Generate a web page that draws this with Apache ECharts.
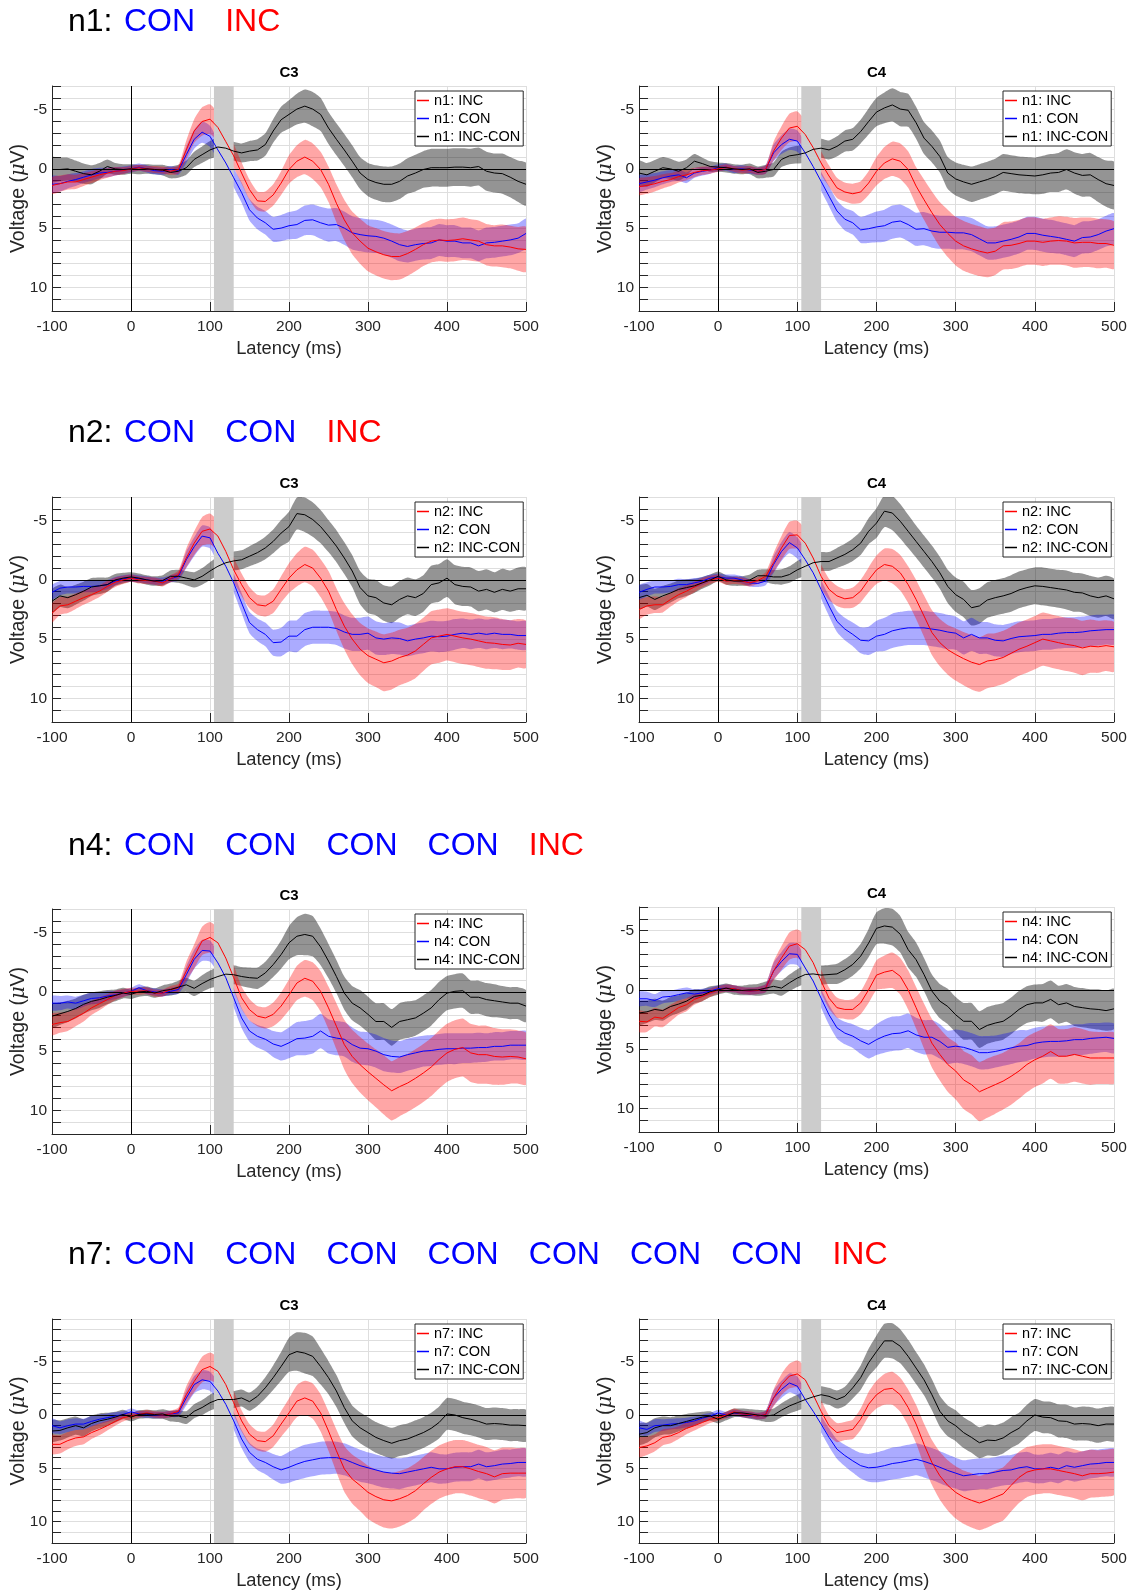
<!DOCTYPE html>
<html>
<head>
<meta charset="utf-8">
<title>ERP C3 / C4</title>
<script src="https://cdn.jsdelivr.net/npm/echarts@6/dist/echarts.min.js"></script>
<style>
  html, body { margin: 0; padding: 0; background: #fff; }
  #main { width: 1132px; height: 1591px; }
</style>
</head>
<body>
<div id="main"></div>
<script>
// sample times (ms)
var latencyMs = [-100,-90,-80,-70,-60,-50,-40,-30,-20,-10,0,10,20,30,40,50,60,70,80,90,100,110,120,130,140,150,160,170,180,190,200,210,220,230,240,250,260,270,280,290,300,310,320,330,340,350,360,370,380,390,400,410,420,430,440,450,460,470,480,490,500];
var shadeFrom = 105, shadeTo = 130;

// row headers
var headerPrefix = ['n1:', 'n2:', 'n4:', 'n7:'];
var headerWords = [
  ['CON', 'INC'],
  ['CON', 'CON', 'INC'],
  ['CON', 'CON', 'CON', 'CON', 'INC'],
  ['CON', 'CON', 'CON', 'CON', 'CON', 'CON', 'CON', 'INC']
];

// ---- n1 ----
var n1C3Inc  = [1.4,1.25,1.1,1.1,0.9,0.7,0.5,0.35,0.2,0.15,0,-0.1,0,0.05,0.1,0.2,0.05, -1.6,-3.2,-4.0,-4.2,-3.5,-2.3,-1.1, 0.35,1.75,2.7,2.75,2.2,1.2, 0.05,-0.65,-1.0,-0.65,0.05,1.3, 2.9,4.3,5.4,6.1,6.7,7.0, 7.25,7.4,7.4,7.15,6.8,6.4, 6.1,6.0,6.05,6.0,5.9,6.0,6.1, 6.4,6.5,6.5,6.6,6.75,6.8];
var n1C3Con  = [1.3,1.25,1.05,0.9,0.7,0.5,0.35,0.3,0.2,0.1,0,-0.15,0,0.15,0.2,0.05,0.15, -1.2,-2.5,-3.1,-2.75,-1.6,-0.5,0.75, 2.0,3.45,4.15,4.55,5.1,5.0, 4.8,4.7,4.35,4.3,4.55,4.75, 4.7,5.0,5.4,5.55,5.65,5.7, 5.85,6.1,6.4,6.55,6.4,6.3, 6.25,6.0,6.1,6.1,6.25,6.25,6.5, 6.25,6.2,6.1,6.0,5.85,5.45];
var n1C3Diff = [0.05,0.05,0,0.2,0.4,0.5,0.2,-0.2,0,0.05,0,0.05,0,0.05,0.1,0.3,0.2, -0.1,-0.8,-1.2,-1.6,-1.85,-1.75,-1.5, -1.35,-1.5,-1.6,-2.05,-3.2,-4.15, -4.6,-5.05,-5.3,-5.05,-4.6,-3.45, -2.5,-1.6,-0.65,0.35,0.9,1.15, 1.3,1.3,1.05,0.6,0.35,0.05, -0.1,-0.1,-0.1,-0.15,-0.15,-0.1,-0.2, 0.2,0.35,0.4,0.7,1.05,1.3];
var n1C4Inc  = [1.5,1.4,1.25,1.05,0.9,0.65,0.5,0.3,0.15,0.1,0,-0.15,0,0.1,0.05,0.2,0.05, -1.5,-2.6,-3.45,-3.6,-2.9,-1.8,-0.5, 0.6,1.6,1.95,2.1,1.95,1.2, 0.2,-0.5,-0.85,-0.65,0.05,1.45, 2.6,3.7,4.7,5.45,6.1,6.5, 6.75,6.95,7.1,6.95,6.5,6.45, 6.3,6.1,6.1,6.2,6.1,6.05,6.1, 6.25,6.2,6.2,6.3,6.3,6.45];
var n1C4Con  = [1.25,1.1,0.95,0.75,0.6,0.5,0.75,0.35,0.2,0.1,-0.1,-0.15,0.05,0,0.1,0.2,0.05, -1.35,-2.05,-2.5,-2.35,-1.35,-0.2,1.05, 2.3,3.55,4.25,4.55,5.15,5.05, 4.9,4.8,4.5,4.4,4.7,5.1, 5.05,5.25,5.35,5.35,5.4,5.4, 5.55,5.9,6.25,6.25,6.1,5.95, 5.75,5.45,5.45,5.6,5.7,5.8,5.95, 6.1,5.8,5.75,5.55,5.25,5.05];
var n1C4Diff = [0.35,0.5,0.2,-0.1,0,0.2,-0.1,-0.65,-0.45,-0.2,-0.15,-0.1,0,0.05,0,0.3,0.2, 0.05,-0.8,-1.1,-1.2,-1.35,-1.65,-1.75, -1.6,-1.9,-2.35,-2.5,-3.15,-4.0, -4.8,-5.15,-5.4,-5.05,-4.95,-3.9, -2.6,-1.9,-1.05,0.35,0.85,1.1, 1.3,1.1,0.9,0.65,0.3,0.4, 0.5,0.55,0.6,0.5,0.35,0.3,0.05, 0.35,0.55,0.5,0.9,1.25,1.4];

// ---- n2 ----
var n2C3Inc  = [2.8,2.2,2.1,1.8,1.5,1.25,0.95,0.55,0.2,0,-0.15,0,0.05,0.1,0.25,-0.1,-0.45, -1.85,-3.1,-4.1,-4.3,-3.7,-2.4,-0.85, 0.4,1.5,2.1,2.2,1.8,0.8, -0.15,-0.85,-1.3,-1.0,-0.15,0.95, 2.5,3.9,5.0,5.85,6.4,6.7, 7.0,6.85,6.55,6.35,6.0,5.45, 4.9,4.75,4.6,4.75,4.9,5.0,5.15, 5.3,5.35,5.45,5.5,5.35,5.45];
var n2C3Con  = [1.05,0.7,0.6,0.6,0.55,0.55,0.5,0.4,0.1,-0.1,-0.15,-0.1,0,0.1,0.1,-0.1,-0.3, -1.7,-2.8,-3.7,-3.55,-2.25,-1.15,0.25, 1.95,3.6,4.2,4.6,5.3,5.25, 4.75,4.75,4.2,4.0,4.0,4.0, 4.1,4.4,4.6,4.6,4.5,4.9, 5.0,4.9,4.95,5.15,5.0,4.9, 4.75,4.8,4.75,4.6,4.5,4.6,4.5, 4.6,4.5,4.6,4.6,4.7,4.7];
var n2C3Diff = [1.8,1.35,1.5,1.25,0.95,0.6,0.5,0.4,0,-0.15,-0.25,-0.15,0,0.1,0.05,-0.3,-0.3, -0.15,0,-0.3,-0.75,-1.15,-1.45,-1.6, -1.7,-2.0,-2.3,-2.7,-3.25,-3.95, -4.5,-5.6,-5.5,-5.1,-4.5,-3.7, -2.85,-1.85,-0.75,0.65,1.35,1.5, 1.95,2.1,1.65,1.35,1.5,1.15, 0.4,0.25,-0.15,0.4,0.55,0.6,0.95, 0.8,1.05,0.8,0.95,0.75,0.75];
var n2C4Inc  = [2.5,2.2,2.1,2.1,1.65,1.25,0.95,0.6,0.25,0,-0.15,0.1,0.05,0.1,0.25,0.05,-0.3, -1.45,-2.7,-3.75,-3.8,-3.1,-1.85,-0.3, 0.8,1.35,1.6,1.5,0.95,0, -0.85,-1.3,-1.15,-0.6,0.4,1.65, 3.05,4.45,5.3,5.9,6.3,6.65, 6.95,7.15,6.85,6.75,6.55,6.2, 5.85,5.6,5.3,5.0,5.15,5.3,5.45, 5.55,5.75,5.6,5.65,5.55,5.65];
var n2C4Con  = [1.05,0.8,0.6,0.6,0.55,0.4,0.4,0.25,0.1,-0.15,-0.25,-0.15,-0.15,0,0.25,0.3,0.1, -1.3,-2.4,-3.15,-2.7,-1.7,-0.6,0.8, 2.2,3.5,4.15,4.6,5.1,5.15, 4.75,4.6,4.3,4.15,4.05,4.05, 4.05,4.15,4.25,4.4,4.5,4.9, 4.6,4.9,4.9,5.1,5.15,4.95, 4.8,4.75,4.7,4.6,4.6,4.5,4.45, 4.45,4.4,4.3,4.25,4.2,4.2];
var n2C4Diff = [1.5,1.3,1.65,1.35,1.1,0.8,0.65,0.5,0.25,0,-0.3,0,0.1,0.1,0,-0.35,-0.35, -0.25,-0.25,-0.45,-0.85,-1.15,-1.45,-1.55, -1.55,-1.85,-2.15,-2.55,-3.1,-4.1, -4.8,-5.8,-5.65,-4.95,-4.1,-3.25, -2.4,-1.55,-0.6,0.55,1.25,1.65, 2.35,2.2,1.7,1.5,1.35,1.15, 0.85,0.65,0.5,0.55,0.65,0.75,0.85, 1.05,1.1,1.35,1.5,1.35,1.6];

// ---- n4 ----
var n4C3Inc  = [2.75,2.6,2.5,2.15,1.8,1.35,1.0,0.65,0.3,0.1,-0.05,-0.05,-0.1,0.1,0.1,-0.2,-0.35, -1.75,-3.0,-4.3,-4.6,-4.15,-2.85,-1.2, 0.5,1.5,2.05,2.2,1.9,1.2, 0.25,-0.75,-1.15,-0.9,-0.05,1.35, 2.9,4.45,5.45,6.15,6.75,7.3, 7.85,8.35,8.0,7.7,7.3,6.85, 6.35,5.7,5.15,4.85,4.7,5.15,5.3, 5.3,5.45,5.5,5.45,5.5,5.65];
var n4C3Con  = [0.95,0.95,0.85,0.95,0.75,0.55,0.5,0.35,0.25,0.1,-0.05,-0.35,-0.1,0,0.1,-0.05,-0.2, -1.45,-2.75,-3.5,-3.45,-2.45,-1.2,0.5, 2.2,3.3,3.75,4.0,4.4,4.6, 4.3,3.95,3.9,3.75,3.3,3.75, 3.9,4.0,4.45,4.75,4.8,5.0, 5.3,5.45,5.5,5.3,5.15,5.0, 4.95,4.85,4.8,4.8,4.75,4.75,4.7, 4.7,4.6,4.6,4.5,4.5,4.5];
var n4C3Diff = [2.05,1.85,1.65,1.4,1.05,0.8,0.65,0.45,0.3,0.1,0.2,0,-0.05,0.1,-0.1,-0.2,-0.4, -0.6,-0.3,-0.7,-1.05,-1.3,-1.5,-1.45, -1.3,-1.2,-1.15,-1.6,-2.3,-3.15, -4.15,-4.7,-4.85,-4.7,-3.8,-2.6, -1.3,0.1,0.95,1.35,1.9,2.5, 2.5,3.0,2.5,2.35,2.2,1.8, 1.35,0.65,0.1,-0.05,-0.1,0.45,0.45, 0.65,0.75,0.85,0.95,0.95,1.2];
var n4C4Inc  = [2.65,2.7,2.3,2.4,1.95,1.5,1.25,0.8,0.55,0.25,0,-0.15,-0.1,0.05,0.1,0.05,-0.15, -1.6,-2.7,-3.7,-3.9,-3.4,-2.3,-0.75, 0.7,1.5,1.65,1.65,1.1,0, -1.25,-1.5,-1.65,-1.15,0,1.5, 3.05,4.5,5.45,6.3,6.85,7.6, 8.0,8.6,8.3,8.0,7.7,7.3, 6.85,6.3,5.9,5.6,5.2,5.6,5.6, 5.45,5.6,5.75,5.75,5.75,5.75];
var n4C4Con  = [0.75,0.75,0.9,0.6,0.55,0.4,0.25,0.35,0.25,0.1,-0.1,-0.15,-0.1,0.05,0.1,0.05,-0.15, -1.6,-2.4,-3.05,-3.0,-1.85,-0.75,0.7, 2.1,3.2,3.65,3.9,4.3,4.6, 4.2,3.9,3.7,3.65,3.45,3.8, 4.0,4.0,4.35,4.85,4.75,4.85, 5.05,5.3,5.3,5.2,5.05,4.9, 4.75,4.7,4.5,4.4,4.35,4.35,4.3, 4.2,4.2,4.1,4.05,4.0,4.1];
var n4C4Diff = [1.95,1.85,1.65,1.75,1.4,1.2,0.95,0.55,0.45,0.15,0,-0.15,0,0.05,0,0,-0.15, -0.3,-0.15,-0.6,-1.0,-1.3,-1.35,-1.25, -1.3,-1.35,-1.7,-2.15,-2.85,-3.95, -5.2,-5.4,-5.3,-4.7,-3.4,-2.55, -1.3,0.1,0.95,1.4,2.1,2.65, 2.65,3.35,3.0,2.8,2.65,2.2, 1.65,1.25,1.1,1.1,0.8,1.25,1.1, 1.4,1.5,1.6,1.65,1.75,1.6];

// ---- n7 ----
var n7C3Inc  = [2.75,2.75,2.4,2.15,2.05,1.65,1.35,1.0,0.6,0.25,0.1,-0.05,-0.2,-0.05,0,-0.1,-0.35, -1.9,-3.15,-4.25,-4.55,-4.1,-2.85,-1.15, 0.55,1.8,2.4,2.5,1.95,0.85, -0.2,-1.3,-1.6,-1.3,-0.2,1.5, 3.35,5.05,6.0,6.6,7.25,7.65, 7.95,8.05,7.85,7.55,7.1,6.45, 5.85,5.35,5.05,4.85,4.85,5.05,5.3, 5.5,5.8,5.5,5.45,5.45,5.45];
var n7C3Con  = [1.0,1.2,1.0,0.85,0.85,0.6,0.4,0.25,0.1,-0.05,-0.3,-0.1,-0.05,0,0,-0.1,-0.2, -1.6,-2.85,-3.3,-3.15,-2.25,-1.0,0.55, 2.25,3.5,4.15,4.45,4.85,5.15, 4.9,4.6,4.35,4.2,4.05,4.0, 4.0,4.15,4.45,4.75,4.95,5.15, 5.35,5.45,5.5,5.35,5.2,5.05, 4.9,5.05,5.05,4.9,4.85,4.85,4.6, 4.85,4.75,4.6,4.55,4.45,4.45];
var n7C3Diff = [1.5,1.45,1.2,1.0,1.2,0.8,0.55,0.4,0.2,-0.05,0.2,-0.05,-0.1,-0.05,-0.1,0.1,0.1, 0.25,-0.35,-0.7,-1.15,-1.45,-1.45,-1.45, -1.6,-1.25,-1.75,-2.55,-3.5,-4.55, -5.65,-5.95,-5.8,-5.5,-4.55,-3.5, -2.25,-0.7,0.55,1.2,1.65,2.1, 2.4,2.65,2.4,2.25,1.95,1.65, 1.25,0.7,-0.1,0,0.25,0.4,0.6, 0.85,0.8,0.85,0.95,0.95,1.0];
var n7C4Inc  = [3.05,2.9,2.6,2.1,1.95,1.65,1.25,1.0,0.7,0.4,0.25,0,-0.3,-0.1,-0.05,0.1,-0.05, -1.6,-2.85,-3.65,-3.85,-3.3,-1.9,-0.35, 1.0,1.65,1.5,1.35,0.4,-1.0, -1.9,-2.4,-2.5,-1.9,-0.7,0.85, 2.75,4.45,5.7,6.6,7.25,7.7, 8.0,8.25,8.0,7.7,7.4,6.6, 5.85,5.35,5.15,5.05,5.05,5.2,5.35, 5.5,5.7,5.5,5.5,5.45,5.35];
var n7C4Con  = [1.2,1.35,1.0,0.95,0.85,0.8,0.7,0.55,0.3,0.1,-0.2,0,-0.2,-0.1,0,0.1,-0.05, -1.6,-2.4,-3.0,-2.7,-1.45,-0.35,0.85, 2.1,3.2,3.8,4.3,4.75,4.95, 4.9,4.75,4.55,4.45,4.3,4.15, 4.35,4.6,4.9,5.2,5.45,5.7, 5.6,5.5,5.5,5.35,5.2,5.15, 4.95,4.85,5.05,5.05,4.9,5.05,4.75, 4.9,4.75,4.6,4.55,4.45,4.45];
var n7C4Diff = [1.8,1.65,1.2,1.0,1.0,0.8,0.6,0.4,0.2,0.1,0.4,0.1,-0.2,-0.2,-0.1,0,0.1, 0,-0.45,-0.85,-1.15,-1.45,-1.7,-1.9, -1.75,-1.45,-1.75,-2.55,-3.5,-4.9, -5.95,-6.95,-6.95,-6.45,-5.5,-4.4, -3.3,-1.9,-0.35,0.55,1.0,1.65, 2.1,2.6,2.35,2.4,2.15,1.65, 1.25,0.55,0,0.2,0.25,0.55,0.6, 0.85,0.8,0.85,1.0,0.85,0.85];

// ---- band half-widths (uV) ----
var n1C3IncSd  = [0.7,0.7,0.65,0.6,0.55, 0.5,0.45,0.4,0.35,0.3, 0.25,0.25,0.25,0.3,0.3,0.3,0.35, 0.8,1.0,1.2,1.25,1.2,1.1,1.0, 0.9,0.85,0.8,0.85,0.9,1.0, 1.2,1.35,1.45,1.5,1.5,1.5, 1.6,1.7,1.8,1.9,1.95,2.0, 2.0,2.0,1.95,1.9,1.85,1.8, 1.8,1.8,1.8,1.8,1.8,1.75,1.75, 1.75,1.75,1.8,1.8,1.85,1.9];
var n1C3ConSd  = [0.7,0.65,0.6,0.55,0.5, 0.5,0.45,0.4,0.35,0.3, 0.3,0.3,0.3,0.3,0.3,0.3,0.35, 0.7,0.8,0.9,0.9,0.85,0.8,0.8, 0.85,0.9,0.95,1.0,1.05,1.1, 1.15,1.2,1.25,1.3,1.35,1.4, 1.4,1.4,1.4,1.4,1.4,1.4, 1.4,1.4,1.4,1.35,1.35,1.35, 1.35,1.35,1.35,1.35,1.3,1.3,1.3, 1.3,1.3,1.3,1.3,1.25,1.25];
var n1C3DiffSd = [1.05,1.0,0.95,0.9,0.85, 0.8,0.7,0.6,0.5,0.45, 0.4,0.4,0.4,0.4,0.45,0.5,0.55, 0.6,0.65,0.7,0.75,0.8,0.8,0.8, 0.8,0.85,0.9,0.95,1.0,1.1, 1.2,1.3,1.4,1.45,1.4,1.35, 1.35,1.35,1.35,1.35,1.4,1.45, 1.5,1.5,1.5,1.5,1.55,1.55, 1.6,1.6,1.6,1.6,1.6,1.6,1.6, 1.65,1.65,1.7,1.7,1.75,1.8];
var n1C4IncSd  = [0.7,0.7,0.65,0.6,0.55, 0.5,0.45,0.4,0.35,0.3, 0.25,0.25,0.25,0.3,0.3,0.3,0.35, 0.8,1.0,1.2,1.25,1.2,1.1,1.0, 0.9,0.85,0.8,0.85,0.9,1.0, 1.2,1.35,1.45,1.5,1.55,1.6, 1.7,1.8,1.9,2.0,2.05,2.1, 2.1,2.1,2.05,2.0,2.0,2.0, 2.0,2.0,2.0,2.0,2.0,2.05,2.05, 2.1,2.1,2.1,2.1,2.05,2.0];
var n1C4ConSd  = [0.7,0.65,0.6,0.55,0.5, 0.5,0.45,0.4,0.35,0.3, 0.3,0.3,0.3,0.3,0.3,0.3,0.35, 0.7,0.8,0.9,0.9,0.85,0.8,0.8, 0.85,0.9,0.95,1.0,1.1,1.2, 1.3,1.35,1.4,1.4,1.4,1.4, 1.4,1.4,1.4,1.4,1.4,1.4, 1.4,1.4,1.4,1.4,1.4,1.4, 1.4,1.4,1.4,1.4,1.4,1.35,1.35, 1.35,1.35,1.35,1.3,1.3,1.3];
var n1C4DiffSd = [1.05,1.0,0.95,0.9,0.85, 0.8,0.7,0.6,0.5,0.45, 0.4,0.4,0.4,0.4,0.45,0.5,0.55, 0.6,0.65,0.7,0.75,0.8,0.8,0.8, 0.8,0.85,0.9,0.95,1.0,1.1, 1.2,1.3,1.4,1.45,1.4,1.35, 1.35,1.35,1.35,1.35,1.4,1.45, 1.5,1.5,1.5,1.5,1.55,1.55, 1.55,1.55,1.55,1.6,1.6,1.65,1.7, 1.75,1.8,1.85,1.9,1.95,2.0];
var n2C3IncSd  = [0.8,0.75,0.7,0.65,0.6, 0.55,0.5,0.45,0.4,0.35, 0.3,0.3,0.3,0.3,0.3,0.3,0.35, 0.8,1.0,1.2,1.3,1.25,1.15,1.05, 0.95,0.9,0.85,0.9,1.0,1.1, 1.25,1.4,1.5,1.55,1.6,1.7, 1.8,1.95,2.1,2.2,2.3,2.35, 2.4,2.4,2.35,2.3,2.3,2.25, 2.25,2.25,2.2,2.2,2.2,2.2,2.2, 2.2,2.2,2.15,2.1,2.05,2.0];
var n2C3ConSd  = [0.6,0.6,0.55,0.55,0.5, 0.5,0.45,0.4,0.35,0.3, 0.3,0.3,0.3,0.3,0.3,0.3,0.35, 0.7,0.8,0.9,0.9,0.85,0.8,0.8, 0.85,0.9,0.95,1.0,1.1,1.2, 1.3,1.35,1.4,1.4,1.4,1.4, 1.4,1.4,1.4,1.4,1.4,1.4, 1.35,1.35,1.35,1.3,1.3,1.3, 1.3,1.3,1.3,1.3,1.25,1.25,1.25, 1.25,1.25,1.25,1.2,1.2,1.2];
var n2C3DiffSd = [1.0,0.95,0.9,0.85,0.8, 0.75,0.7,0.6,0.5,0.45, 0.4,0.4,0.4,0.4,0.45,0.5,0.55, 0.6,0.65,0.7,0.75,0.8,0.8,0.8, 0.8,0.85,0.9,0.95,1.0,1.1, 1.25,1.35,1.45,1.45,1.4,1.35, 1.35,1.35,1.35,1.4,1.45,1.5, 1.5,1.55,1.55,1.55,1.55,1.55, 1.6,1.6,1.6,1.65,1.65,1.65,1.7, 1.7,1.7,1.75,1.75,1.8,1.8];
var n2C4IncSd  = [0.8,0.75,0.7,0.65,0.6, 0.55,0.5,0.45,0.4,0.35, 0.3,0.3,0.3,0.3,0.3,0.3,0.35, 0.8,1.0,1.15,1.2,1.2,1.1,1.0, 0.9,0.85,0.8,0.85,0.95,1.05, 1.2,1.35,1.45,1.5,1.55,1.65, 1.75,1.9,2.0,2.1,2.2,2.25, 2.3,2.3,2.3,2.25,2.25,2.25, 2.25,2.25,2.25,2.25,2.25,2.25,2.25, 2.3,2.3,2.25,2.2,2.15,2.1];
var n2C4ConSd  = [0.6,0.6,0.55,0.55,0.5, 0.5,0.45,0.4,0.35,0.3, 0.3,0.3,0.3,0.3,0.3,0.3,0.35, 0.7,0.8,0.9,0.9,0.85,0.8,0.8, 0.85,0.9,0.95,1.0,1.1,1.2, 1.3,1.4,1.45,1.45,1.45,1.45, 1.45,1.45,1.45,1.45,1.4,1.4, 1.4,1.35,1.35,1.35,1.35,1.3, 1.3,1.3,1.3,1.3,1.3,1.3,1.3, 1.3,1.3,1.3,1.3,1.25,1.25];
var n2C4DiffSd = [1.0,0.95,0.9,0.85,0.8, 0.75,0.7,0.6,0.5,0.45, 0.4,0.4,0.4,0.4,0.45,0.5,0.55, 0.6,0.65,0.7,0.75,0.8,0.8,0.8, 0.8,0.85,0.9,0.95,1.0,1.1, 1.25,1.35,1.45,1.45,1.4,1.35, 1.35,1.35,1.35,1.4,1.45,1.5, 1.5,1.5,1.5,1.5,1.5,1.55, 1.55,1.55,1.55,1.6,1.6,1.6,1.65, 1.65,1.65,1.7,1.7,1.7,1.7];
var n4C3IncSd  = [0.9,0.85,0.8,0.75,0.7, 0.6,0.55,0.45,0.4,0.35, 0.3,0.3,0.3,0.3,0.3,0.3,0.35, 0.8,1.0,1.2,1.3,1.25,1.15,1.05, 0.95,0.9,0.85,0.9,1.0,1.15, 1.3,1.45,1.55,1.6,1.7,1.8, 1.95,2.1,2.25,2.35,2.4,2.45, 2.5,2.5,2.5,2.45,2.45,2.45, 2.45,2.45,2.45,2.45,2.45,2.45,2.45, 2.45,2.4,2.35,2.3,2.25,2.2];
var n4C3ConSd  = [0.6,0.6,0.55,0.55,0.5, 0.5,0.45,0.4,0.35,0.3, 0.3,0.3,0.3,0.3,0.3,0.3,0.35, 0.7,0.8,0.9,0.9,0.85,0.8,0.8, 0.85,0.9,0.95,1.0,1.1,1.2, 1.3,1.4,1.45,1.45,1.45,1.45, 1.45,1.45,1.45,1.4,1.4,1.4, 1.4,1.35,1.35,1.35,1.35,1.3, 1.3,1.3,1.3,1.3,1.25,1.25,1.25, 1.2,1.2,1.2,1.2,1.2,1.2];
var n4C3DiffSd = [1.0,0.95,0.9,0.85,0.8, 0.75,0.7,0.6,0.5,0.45, 0.4,0.4,0.4,0.4,0.45,0.5,0.55, 0.6,0.65,0.7,0.75,0.8,0.8,0.8, 0.8,0.85,0.9,0.95,1.05,1.2, 1.4,1.6,1.75,1.7,1.55,1.45, 1.4,1.4,1.45,1.5,1.5,1.55, 1.55,1.55,1.55,1.55,1.5,1.5, 1.5,1.5,1.45,1.45,1.45,1.4,1.4, 1.4,1.4,1.35,1.35,1.35,1.35];
var n4C4IncSd  = [0.9,0.85,0.8,0.75,0.7, 0.6,0.55,0.45,0.4,0.35, 0.3,0.3,0.3,0.3,0.3,0.3,0.35, 0.8,1.0,1.15,1.2,1.2,1.1,1.0, 0.9,0.85,0.8,0.85,0.95,1.1, 1.25,1.4,1.5,1.55,1.65,1.75, 1.9,2.05,2.2,2.3,2.4,2.45, 2.5,2.5,2.5,2.45,2.4,2.4, 2.35,2.35,2.3,2.3,2.3,2.3,2.3, 2.3,2.3,2.25,2.2,2.2,2.15];
var n4C4ConSd  = [0.6,0.6,0.55,0.55,0.5, 0.5,0.45,0.4,0.35,0.3, 0.3,0.3,0.3,0.3,0.3,0.3,0.35, 0.7,0.8,0.9,0.9,0.85,0.8,0.8, 0.85,0.9,0.95,1.0,1.1,1.2, 1.3,1.4,1.45,1.45,1.45,1.45, 1.45,1.45,1.45,1.4,1.4,1.4, 1.4,1.4,1.4,1.35,1.35,1.35, 1.35,1.3,1.3,1.3,1.3,1.3,1.3, 1.3,1.3,1.3,1.25,1.25,1.25];
var n4C4DiffSd = [1.0,0.95,0.9,0.85,0.8, 0.75,0.7,0.6,0.5,0.45, 0.4,0.4,0.4,0.4,0.45,0.5,0.55, 0.6,0.65,0.7,0.75,0.8,0.8,0.8, 0.8,0.85,0.9,0.95,1.05,1.2, 1.35,1.5,1.55,1.55,1.5,1.45, 1.4,1.4,1.45,1.5,1.5,1.55, 1.55,1.55,1.55,1.55,1.55,1.55, 1.55,1.55,1.55,1.6,1.6,1.6,1.6, 1.65,1.65,1.65,1.7,1.7,1.7];
var n7C3IncSd  = [0.9,0.85,0.8,0.75,0.7, 0.6,0.55,0.45,0.4,0.35, 0.3,0.3,0.3,0.3,0.3,0.3,0.35, 0.8,1.0,1.2,1.3,1.3,1.2,1.1, 1.0,0.95,0.9,0.95,1.05,1.2, 1.35,1.5,1.6,1.65,1.75,1.85, 2.0,2.15,2.3,2.4,2.5,2.55, 2.6,2.6,2.6,2.55,2.55,2.5, 2.5,2.5,2.5,2.5,2.5,2.5,2.5, 2.5,2.5,2.45,2.4,2.35,2.3];
var n7C3ConSd  = [0.65,0.6,0.6,0.55,0.5, 0.5,0.45,0.4,0.35,0.3, 0.3,0.3,0.3,0.3,0.3,0.3,0.35, 0.7,0.8,0.9,0.9,0.85,0.8,0.8, 0.85,0.9,1.0,1.1,1.2,1.3, 1.45,1.5,1.55,1.55,1.55,1.55, 1.5,1.5,1.5,1.5,1.45,1.45, 1.45,1.45,1.45,1.4,1.4,1.4, 1.4,1.4,1.35,1.35,1.35,1.35,1.35, 1.35,1.35,1.35,1.3,1.3,1.3];
var n7C3DiffSd = [1.0,0.95,0.9,0.85,0.8, 0.75,0.7,0.6,0.5,0.45, 0.4,0.4,0.4,0.4,0.45,0.5,0.55, 0.6,0.65,0.7,0.75,0.8,0.8,0.8, 0.8,0.85,0.9,1.0,1.15,1.35, 1.6,1.8,1.9,1.85,1.7,1.55, 1.5,1.45,1.45,1.45,1.45,1.45, 1.45,1.45,1.45,1.45,1.45,1.45, 1.45,1.5,1.5,1.5,1.5,1.5,1.5, 1.5,1.5,1.5,1.5,1.5,1.5];
var n7C4IncSd  = [0.9,0.85,0.8,0.75,0.7, 0.6,0.55,0.45,0.4,0.35, 0.3,0.3,0.3,0.3,0.3,0.3,0.35, 0.8,1.0,1.15,1.25,1.25,1.15,1.05, 0.95,0.9,0.85,0.9,1.0,1.15, 1.3,1.45,1.55,1.6,1.7,1.8, 1.95,2.1,2.25,2.35,2.45,2.5, 2.55,2.55,2.55,2.5,2.5,2.45, 2.4,2.35,2.3,2.3,2.3,2.3,2.3, 2.3,2.3,2.25,2.2,2.2,2.15];
var n7C4ConSd  = [0.65,0.6,0.6,0.55,0.5, 0.5,0.45,0.4,0.35,0.3, 0.3,0.3,0.3,0.3,0.3,0.3,0.35, 0.7,0.8,0.9,0.9,0.85,0.8,0.8, 0.85,0.9,1.0,1.1,1.2,1.3, 1.4,1.45,1.5,1.5,1.5,1.5, 1.5,1.5,1.5,1.5,1.45,1.45, 1.45,1.45,1.45,1.4,1.4,1.4, 1.4,1.4,1.35,1.35,1.35,1.35,1.35, 1.35,1.35,1.35,1.3,1.3,1.3];
var n7C4DiffSd = [1.0,0.95,0.9,0.85,0.8, 0.75,0.7,0.6,0.5,0.45, 0.4,0.4,0.4,0.4,0.45,0.5,0.55, 0.6,0.65,0.7,0.75,0.8,0.8,0.8, 0.8,0.85,0.9,1.0,1.15,1.3, 1.5,1.6,1.65,1.6,1.55,1.5, 1.45,1.45,1.45,1.45,1.45,1.45, 1.45,1.45,1.45,1.45,1.45,1.45, 1.45,1.5,1.5,1.5,1.5,1.55,1.55, 1.55,1.6,1.6,1.6,1.6,1.6];

var panels = [
  {grp: 'n1', ch: 'C3', inc: n1C3Inc, con: n1C3Con, diff: n1C3Diff, incSd: n1C3IncSd, conSd: n1C3ConSd, diffSd: n1C3DiffSd, yMin: -7, yMax: 12},
  {grp: 'n1', ch: 'C4', inc: n1C4Inc, con: n1C4Con, diff: n1C4Diff, incSd: n1C4IncSd, conSd: n1C4ConSd, diffSd: n1C4DiffSd, yMin: -7, yMax: 12},
  {grp: 'n2', ch: 'C3', inc: n2C3Inc, con: n2C3Con, diff: n2C3Diff, incSd: n2C3IncSd, conSd: n2C3ConSd, diffSd: n2C3DiffSd, yMin: -7, yMax: 12},
  {grp: 'n2', ch: 'C4', inc: n2C4Inc, con: n2C4Con, diff: n2C4Diff, incSd: n2C4IncSd, conSd: n2C4ConSd, diffSd: n2C4DiffSd, yMin: -7, yMax: 12},
  {grp: 'n4', ch: 'C3', inc: n4C3Inc, con: n4C3Con, diff: n4C3Diff, incSd: n4C3IncSd, conSd: n4C3ConSd, diffSd: n4C3DiffSd, yMin: -7, yMax: 12},
  {grp: 'n4', ch: 'C4', inc: n4C4Inc, con: n4C4Con, diff: n4C4Diff, incSd: n4C4IncSd, conSd: n4C4ConSd, diffSd: n4C4DiffSd, yMin: -7, yMax: 12},
  {grp: 'n7', ch: 'C3', inc: n7C3Inc, con: n7C3Con, diff: n7C3Diff, incSd: n7C3IncSd, conSd: n7C3ConSd, diffSd: n7C3DiffSd, yMin: -9, yMax: 12},
  {grp: 'n7', ch: 'C4', inc: n7C4Inc, con: n7C4Con, diff: n7C4Diff, incSd: n7C4IncSd, conSd: n7C4ConSd, diffSd: n7C4DiffSd, yMin: -9, yMax: 12}
];

// plot boxes in pixels
var boxes = [
  {left: 52, top: 86, width: 474}, {left: 639, top: 86, width: 475},
  {left: 52, top: 497, width: 474}, {left: 639, top: 497, width: 475},
  {left: 52, top: 909, width: 474}, {left: 639, top: 907, width: 475},
  {left: 52, top: 1319, width: 474}, {left: 639, top: 1319, width: 475}
];
var boxHeight = 225;
var headerY = [22, 433, 846, 1255];

var FONT = '"Liberation Sans", Arial, Helvetica, sans-serif';
var AX = '#262626';
var GRIDC = '#dedede';
var RED = '#ff0000', BLUE = '#0000ff', BLACK = '#000000';

panels.forEach(function (p) {
  ['inc', 'con', 'diff', 'incSd', 'conSd', 'diffSd'].forEach(function (k) {
    if (p[k].length !== latencyMs.length) throw new Error(p.grp + p.ch + ' ' + k + ' has ' + p[k].length);
  });
});

function pairs(vals) {
  return vals.map(function (v, i) { return [latencyMs[i], v]; });
}

// shaded band (mean +/- half-width) as one polygon, placed with the axis scales
function band(pi, mean, sd, fill) {
  return {
    type: 'custom', xAxisIndex: pi, yAxisIndex: pi, silent: true, z: 1, clip: true,
    data: pairs(mean),
    renderItem: function (params, api) {
      if (params.dataIndex !== 0) return null;
      var pts = [];
      for (var i = 0; i < mean.length; i++) pts.push(api.coord([latencyMs[i], mean[i] - sd[i]]));
      for (var j = mean.length - 1; j >= 0; j--) pts.push(api.coord([latencyMs[j], mean[j] + sd[j]]));
      return {type: 'polygon', shape: {points: pts, smooth: 0.2}, style: {fill: fill}};
    }
  };
}

// grey analysis window, drawn over the bands but under the traces
function shade(pi, yMin, yMax) {
  return {
    type: 'custom', xAxisIndex: pi, yAxisIndex: pi, silent: true, z: 2, clip: true,
    data: [[shadeFrom, yMin]],
    renderItem: function (params, api) {
      var a = api.coord([shadeFrom, yMin]);
      var b = api.coord([shadeTo, yMax]);
      return {type: 'rect', shape: {x: a[0], y: Math.min(a[1], b[1]), width: b[0] - a[0], height: Math.abs(b[1] - a[1])},
              style: {fill: '#cccccc'}};
    }
  };
}

function line(pi, name, vals, color) {
  return {
    type: 'line', name: name, xAxisIndex: pi, yAxisIndex: pi, data: pairs(vals),
    symbol: 'none', silent: true, color: color, z: 4,
    lineStyle: {color: color, width: 1}
  };
}

var option = {
  animation: false,
  backgroundColor: '#ffffff',
  grid: [], xAxis: [], yAxis: [], legend: [], series: [], graphic: []
};

panels.forEach(function (p, pi) {
  var b = boxes[pi];
  option.grid.push({left: b.left, top: b.top, width: b.width, height: boxHeight, containLabel: false});
  option.xAxis.push({
    gridIndex: pi, type: 'value', min: -100, max: 500, interval: 100,
    axisLine: {onZero: false, lineStyle: {color: AX, width: 1}},
    axisTick: {inside: true, length: 9, lineStyle: {color: AX}},
    axisLabel: {color: AX, fontSize: 15.5, fontFamily: FONT, margin: 8},
    splitLine: {show: true, lineStyle: {color: GRIDC, width: 1}},
    name: 'Latency (ms)', nameLocation: 'middle', nameGap: 29, nameMoveOverlap: false,
    nameTextStyle: {color: AX, fontSize: 18.3, fontFamily: FONT}
  });
  option.yAxis.push({
    gridIndex: pi, type: 'value', inverse: true, min: p.yMin, max: p.yMax, interval: 1,
    axisLine: {show: true, onZero: false, lineStyle: {color: AX, width: 1}},
    axisTick: {show: true, inside: true, length: 9, lineStyle: {color: AX}},
    axisLabel: {
      color: AX, fontSize: 15.5, fontFamily: FONT, margin: 5,
      formatter: function (v) { return v % 5 === 0 ? String(v) : ''; }
    },
    splitLine: {show: true, lineStyle: {color: GRIDC, width: 1}},
    name: '{a|Voltage (}{m|μ}{a|V)}', nameLocation: 'middle', nameGap: 23, nameMoveOverlap: false,
    nameTextStyle: {
      rich: {
        a: {color: AX, fontSize: 19.5, fontFamily: FONT},
        m: {color: AX, fontSize: 19.5, fontStyle: 'italic', fontFamily: '"DejaVu Serif", serif'}
      }
    }
  });

  var nInc = p.grp + ': INC', nCon = p.grp + ': CON', nDiff = p.grp + ': INC-CON';
  option.series.push(band(pi, p.diff, p.diffSd, 'rgba(0,0,0,0.42)'));
  option.series.push(band(pi, p.con, p.conSd, 'rgba(0,0,255,0.33)'));
  option.series.push(band(pi, p.inc, p.incSd, 'rgba(255,0,0,0.35)'));
  option.series.push(shade(pi, p.yMin, p.yMax));
  option.series.push({
    type: 'line', xAxisIndex: pi, yAxisIndex: pi, data: [], silent: true, z: 3,
    markLine: {
      silent: true, z: 3, symbol: ['none', 'none'], label: {show: false},
      lineStyle: {color: '#000000', type: 'solid', width: 1},
      data: [{xAxis: 0}, {yAxis: 0}]
    }
  });
  option.series.push(line(pi, nCon, p.con, BLUE));
  option.series.push(line(pi, nInc, p.inc, RED));
  option.series.push(line(pi, nDiff, p.diff, BLACK));

  option.legend.push({
    left: b.left + b.width - 111, top: b.top + 5, orient: 'vertical',
    data: [nInc, nCon, nDiff], icon: 'rect', itemWidth: 12, itemHeight: 1.5, itemGap: 3,
    padding: [2, 3, 2, 2], borderColor: AX, borderWidth: 1, backgroundColor: '#ffffff',
    selectedMode: false,
    textStyle: {color: '#000000', fontSize: 14.5, lineHeight: 15, fontFamily: FONT}
  });

  option.graphic.push({
    type: 'text', x: b.left + b.width / 2, y: b.top - 13, silent: true,
    style: {text: p.ch, fill: '#000000', fontSize: 15, fontWeight: 'bold', fontFamily: FONT,
            textAlign: 'center', textVerticalAlign: 'middle', align: 'center', verticalAlign: 'middle'}
  });
});

headerPrefix.forEach(function (pre, r) {
  option.graphic.push({
    type: 'text', x: 68, y: headerY[r], silent: true,
    style: {text: pre, fill: '#000000', fontSize: 32, fontFamily: FONT,
            textVerticalAlign: 'middle', verticalAlign: 'middle'}
  });
  headerWords[r].forEach(function (w, i) {
    option.graphic.push({
      type: 'text', x: 124 + 101.2 * i, y: headerY[r], silent: true,
      style: {text: w, fill: w === 'INC' ? RED : BLUE, fontSize: 32, fontFamily: FONT,
              textVerticalAlign: 'middle', verticalAlign: 'middle'}
    });
  });
});

var chart = echarts.init(document.getElementById('main'));
chart.setOption(option);
</script>
</body>
</html>
